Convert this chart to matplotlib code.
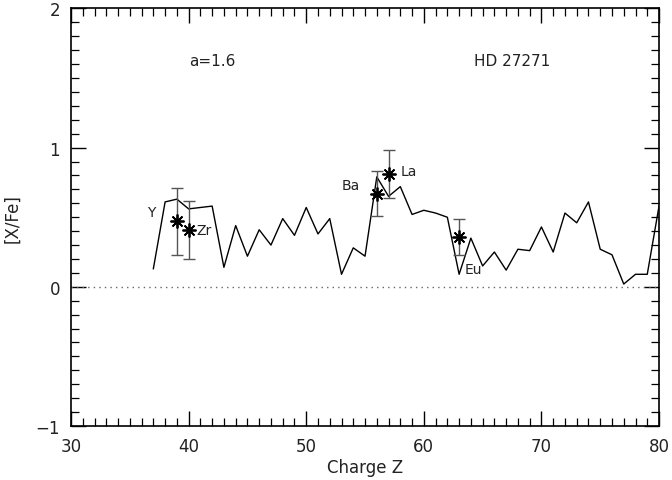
import matplotlib
matplotlib.use("Agg")
import matplotlib.pyplot as plt
from matplotlib.ticker import MultipleLocator

# model curve [X/Fe] vs charge Z
z_model = list(range(37, 81))
xfe_model = [0.13, 0.61, 0.63, 0.56, 0.57, 0.58, 0.14, 0.44, 0.22, 0.41,
             0.30, 0.49, 0.37, 0.57, 0.38, 0.49, 0.09, 0.28, 0.22, 0.79,
             0.65, 0.72, 0.52, 0.55, 0.53, 0.50, 0.09, 0.35, 0.15, 0.25,
             0.12, 0.27, 0.26, 0.43, 0.25, 0.53, 0.46, 0.61, 0.27, 0.23,
             0.02, 0.09, 0.09, 0.58]

# observed abundances with errors
obs_names = ["Y", "Zr", "Ba", "La", "Eu"]
obs_z = [39, 40, 56, 57, 63]
obs_xfe = [0.47, 0.41, 0.67, 0.81, 0.36]
obs_err = [0.24, 0.21, 0.16, 0.17, 0.13]

# label offsets (data units) for each element name
label_dx = [-2.5, 0.7, -3.0, 1.0, 0.5]
label_dy = [0.07, 0.0, 0.06, 0.02, -0.23]

plt.rcParams['font.family'] = ['DejaVu Sans']

fig = plt.figure(figsize=(6.72, 4.81), dpi=100)
ax = fig.add_axes([0.1057, 0.1123, 0.875, 0.868])

ax.plot(z_model, xfe_model, color='black', lw=1.0)
ax.axhline(0, color='#666666', ls=(0, (1, 3)), lw=1.0)

ax.errorbar(obs_z, obs_xfe, yerr=obs_err, fmt='none', ecolor='#555555',
            elinewidth=1.0, capsize=4, capthick=1.0)
ax.plot(obs_z, obs_xfe, ls='none', marker=(8, 2, 0), ms=10, mec='black',
        mew=1.3, color='black')

for name, z, v, dx, dy in zip(obs_names, obs_z, obs_xfe, label_dx, label_dy):
    ax.text(z + dx, v + dy, name, fontsize=10, color='#222222',
            ha='left', va='center')

ax.text(0.24, 0.875, "a=1.6", transform=ax.transAxes, fontsize=11,
        ha='center', va='center', color='#222222')
ax.text(0.75, 0.875, "HD 27271", transform=ax.transAxes, fontsize=11,
        ha='center', va='center', color='#222222')

ax.set_xlim(30, 80)
ax.set_ylim(-1, 2)
ax.xaxis.set_major_locator(MultipleLocator(10))
ax.xaxis.set_minor_locator(MultipleLocator(1))
ax.yaxis.set_major_locator(MultipleLocator(1))
ax.yaxis.set_minor_locator(MultipleLocator(0.1))
ax.tick_params(which='both', direction='in', top=True, right=True,
               labelsize=12, colors='black', labelcolor='#222222')
ax.tick_params(which='major', length=11, width=1.0, pad=8)
ax.tick_params(which='minor', length=6, width=0.9)
for s in ax.spines.values():
    s.set_linewidth(1.2)

ax.set_xlabel("Charge Z", fontsize=12, color='#222222', labelpad=2)
ax.set_ylabel("[X/Fe]", fontsize=12, color='#222222', labelpad=10)

fig.savefig("out.png", dpi=100)
